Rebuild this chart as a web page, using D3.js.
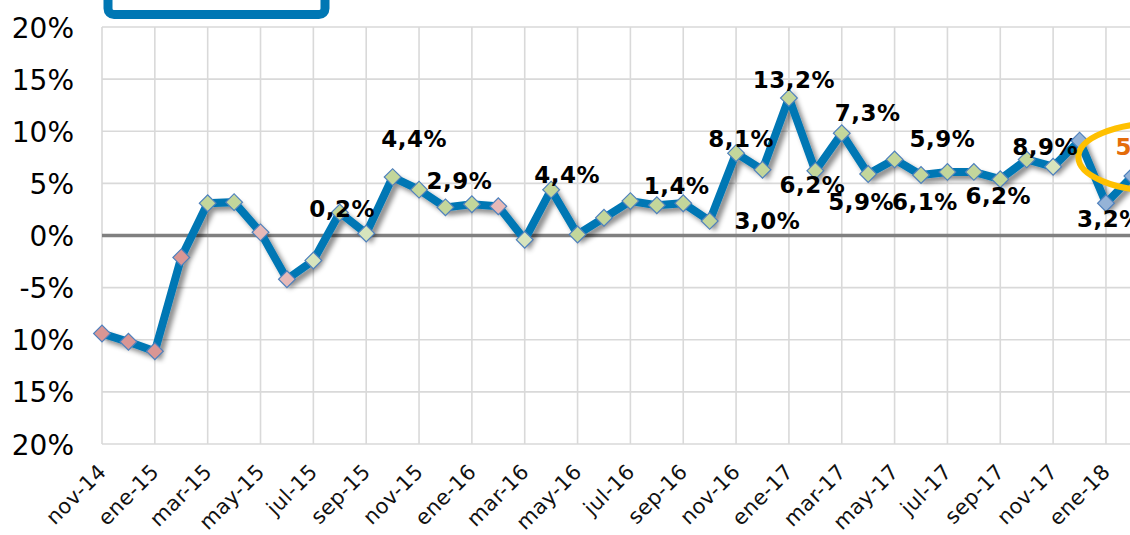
<!DOCTYPE html>
<html>
<head>
<meta charset="utf-8">
<script src="https://cdn.jsdelivr.net/npm/d3@7/dist/d3.min.js"></script>
<style>
  html, body { margin: 0; padding: 0; background: #ffffff; }
  svg { display: block; }
</style>
</head>
<body>
<svg id="chart" width="1130" height="535"></svg>
<script>
// ---------- DATA ----------
const categories = ["nov-14","dic-14","ene-15","feb-15","mar-15","abr-15","may-15","jun-15","jul-15","ago-15",
  "sep-15","oct-15","nov-15","dic-15","ene-16","feb-16","mar-16","abr-16","may-16","jun-16",
  "jul-16","ago-16","sep-16","oct-16","nov-16","dic-16","ene-17","feb-17","mar-17","abr-17",
  "may-17","jun-17","jul-17","ago-17","sep-17","oct-17","nov-17","dic-17","ene-18","feb-18"];

const values = [-9.4,-10.2,-11.1,-2.1,3.1,3.2,0.3,-4.2,-2.4,2.2,
  0.2,5.6,4.4,2.7,3.0,2.8,-0.4,4.4,0.1,1.7,
  3.3,2.9,3.1,1.4,7.9,6.3,13.2,6.2,9.8,5.9,
  7.3,5.8,6.1,6.1,5.4,7.3,6.6,9.1,3.1,5.7];

// marker category per point
const markerType = ["neg","neg","neg","neg","pos","pos","negL","negL","posL","pos",
  "posL","pos","pos","pos","pos","negL","posL","pos","pos","pos",
  "pos","pos","pos","pos","pos","pos","pos","pos","pos","pos",
  "pos","pos","pos","pos","pos","pos","posL","proj","proj","proj"];

const yTicks = [-20,-15,-10,-5,0,5,10,15,20];

// data labels: anchor point index and text
const labelIndex = [10,12,13,17,23,24,25,26,27,28,29,31,32,34,36,38,39];
const labelText  = ["0,2%","4,4%","2,9%","4,4%","1,4%","8,1%","3,0%","13,2%","6,2%","7,3%",
  "5,9%","6,1%","5,9%","6,2%","8,9%","3,2%","5,7%"];
const highlightLabel = 39;

// ---------- LAYOUT / STYLE ----------
const labelOffsets = [[-24,-16],[-5,-43],[14,-18],[16,-7],[-33,-27],[5,-6],[5,59],[5,-10],[-3,22],[26,-12],
  [-7,36],[4,35],[-5,-25],[-2,25],[-8,-12],[4,24],[16,-21]];
const markerFill = { neg: "#d99694", negL: "#e6b9b8", pos: "#c3d69b", posL: "#d7e4bd", proj: "#95b3d7" };
const plotLeft = 102, monthStep = 26.42, plotTop = 27, plotBottom = 444;
const lineColor = "#0077b4";

const svg = d3.select("#chart");
const defs = svg.append("defs");
const f = defs.append("filter").attr("id","shadow").attr("x","-10%").attr("y","-10%").attr("width","130%").attr("height","130%");
f.append("feDropShadow").attr("dx",4).attr("dy",4).attr("stdDeviation",2.5)
  .attr("flood-color","#000").attr("flood-opacity",0.45);
defs.append("clipPath").attr("id","leftclip").append("rect")
  .attr("x",11.5).attr("y",0).attr("width",200).attr("height",535);

const x = d3.scalePoint().domain(categories)
  .range([plotLeft, plotLeft + monthStep * (categories.length - 1)]);
const y = d3.scaleLinear().domain([-20, 20]).range([plotBottom, plotTop]);

// top box (cut off)
svg.append("rect").attr("x",108).attr("y",-40).attr("width",217).attr("height",54.5)
  .attr("rx",6).attr("fill","#fff").attr("stroke",lineColor).attr("stroke-width",9);

// gridlines
const grid = svg.append("g");
grid.selectAll("line.h").data(yTicks).join("line")
  .attr("x1", plotLeft).attr("x2", 1140)
  .attr("y1", d => y(d)).attr("y2", d => y(d))
  .attr("stroke","#d9d9d9").attr("stroke-width",1.6);
grid.selectAll("line.v").data(categories.filter((c,i) => i % 2 === 0)).join("line")
  .attr("x1", d => x(d)).attr("x2", d => x(d))
  .attr("y1", plotTop).attr("y2", plotBottom)
  .attr("stroke","#d9d9d9").attr("stroke-width",1.6);

// zero line
svg.append("line").attr("x1", plotLeft).attr("x2", 1140)
  .attr("y1", y(0)).attr("y2", y(0)).attr("stroke","#808080").attr("stroke-width",3.5);

// y axis labels (left edge cropped like the reference)
const ygWrap = svg.append("g").attr("clip-path","url(#leftclip)");
const yAxis = d3.axisLeft(y).tickValues(yTicks).tickSize(0).tickPadding(0)
  .tickFormat(d => d + "%");
const yg = ygWrap.append("g").attr("transform","translate(74,0)").call(yAxis);
yg.select(".domain").remove();
yg.selectAll("text").attr("font-family","'DejaVu Sans', Verdana, sans-serif")
  .attr("font-size",28).attr("fill","#000").attr("dy","0.36em");

// x axis labels
const xAxis = d3.axisBottom(x).tickValues(categories.filter((c,i) => i % 2 === 0)).tickSize(0).tickPadding(0);
const xg = svg.append("g").attr("transform",`translate(0,${plotBottom})`).call(xAxis);
xg.select(".domain").remove();
xg.selectAll("text")
  .attr("font-family","'DejaVu Sans', Verdana, sans-serif").attr("font-size",21).attr("fill","#111")
  .attr("letter-spacing",0.4)
  .attr("text-anchor","end").attr("y",0).attr("dy",0)
  .attr("transform","translate(5,29) rotate(-45)");

// line
const line = d3.line().x((d,i) => x(categories[i])).y(d => y(d));
svg.append("path").datum(values).attr("d", line)
  .attr("fill","none").attr("stroke",lineColor).attr("stroke-width",8)
  .attr("stroke-linejoin","miter").attr("filter","url(#shadow)");

// markers
svg.append("g").selectAll("path").data(values).join("path")
  .attr("d", d3.symbol().type(d3.symbolSquare).size(140))
  .attr("transform",(d,i) => `translate(${x(categories[i])},${y(d)}) rotate(45)`)
  .attr("fill",(d,i) => markerFill[markerType[i]])
  .attr("stroke","#4f81bd").attr("stroke-width",1.2);

// highlight ellipse
svg.append("ellipse")
  .attr("cx", x(categories[highlightLabel]) + 28).attr("cy", y(values[highlightLabel]) - 19)
  .attr("rx", 82).attr("ry", 34)
  .attr("fill","none").attr("stroke","#ffc000").attr("stroke-width",6);

// data labels
svg.append("g").selectAll("text").data(labelIndex).join("text")
  .attr("x",(d,k) => x(categories[d]) + labelOffsets[k][0])
  .attr("y",(d,k) => y(values[d]) + labelOffsets[k][1])
  .attr("text-anchor","middle")
  .attr("font-family","'DejaVu Sans', Verdana, sans-serif").attr("font-weight","bold")
  .attr("font-size",23).attr("letter-spacing",0.5)
  .attr("fill",(d) => d === highlightLabel ? "#e46c0a" : "#000")
  .text((d,k) => labelText[k]);
</script>
</body>
</html>
